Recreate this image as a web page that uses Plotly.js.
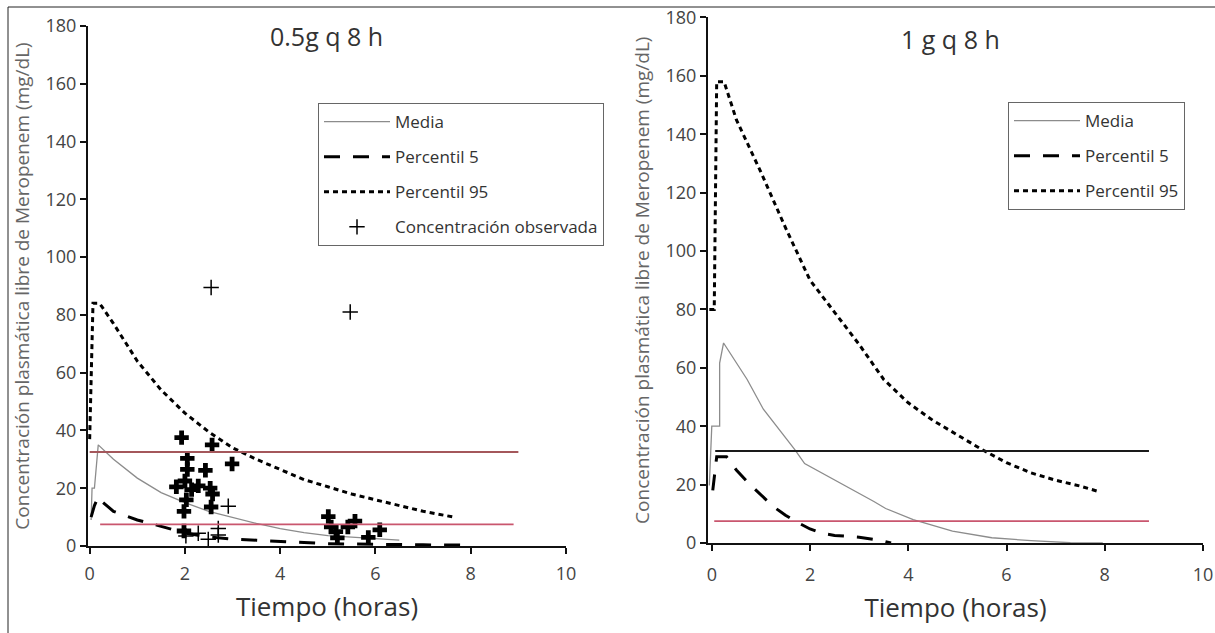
<!DOCTYPE html>
<html>
<head>
<meta charset="utf-8">
<script src="https://cdn.plot.ly/plotly-3.0.1.min.js"></script>
<style>
  html, body { margin: 0; padding: 0; background: #fff; }
  #chart { width: 1215px; height: 633px; }
</style>
</head>
<body>
<div id="chart"></div>
<script>
// ---------- Panel izquierdo: 0.5 g q 8 h ----------
const mediaIzqX = [0.03, 0.05, 0.1, 0.18, 0.5, 1, 1.5, 2, 2.5, 3, 3.5, 4, 4.5, 5, 5.5, 6, 6.5];
const mediaIzqY = [9, 20, 20, 35, 30, 23.5, 18.5, 15, 12, 9.8, 7.8, 6, 4.6, 3.6, 3, 2.4, 2];

const p5IzqX = [0.03, 0.1, 0.18, 0.25, 0.5, 1, 1.5, 2, 2.5, 3, 3.5, 4, 4.5, 5, 6, 7, 7.8];
const p5IzqY = [10, 14, 17, 15.5, 12, 9, 6.8, 4.5, 3.1, 2.4, 2, 1.5, 1.2, 0.8, 0.5, 0.4, 0.3];

const p95IzqX = [0.0, 0.03, 0.07, 0.2, 0.25, 0.5, 1, 1.5, 2, 2.5, 3, 3.5, 4, 4.5, 5, 5.5, 6, 6.5, 7, 7.65];
const p95IzqY = [37, 60, 84, 84, 83, 77, 64, 54, 46, 39.5, 34, 30, 26.5, 23, 20.5, 18, 16, 14, 12, 10];

// Concentración observada (marcas gruesas y finas)
const obsGruesoX = [1.93, 2.57, 2.99, 2.05, 2.05, 2.43, 1.82, 2.0, 2.14, 2.28, 2.53, 2.58, 2.03, 1.98, 2.55, 1.98,
                    5.01, 5.07, 5.17, 5.2, 5.42, 5.57, 5.85, 6.09];
const obsGruesoY = [37.5, 35, 28.4, 30.3, 26.5, 26.2, 20.5, 22.5, 19.5, 20.8, 20, 18, 16, 12, 13.5, 5.2,
                    10.2, 6.6, 5.0, 2.8, 6.6, 8.6, 3.0, 5.6];
const obsFinoX = [2.91, 2.28, 2.49, 2.7, 2.7, 2.02, 2.55, 5.47];
const obsFinoY = [13.8, 4.4, 2.3, 6.1, 3.8, 3.5, 89.5, 81];

// Umbrales (líneas horizontales)
const umbralIzqSupX = [0, 9];
const umbralIzqSupY = [32.5, 32.5];
const umbralIzqInfX = [0.22, 8.9];
const umbralIzqInfY = [7.5, 7.5];

// ---------- Panel derecho: 1 g q 8 h ----------
const mediaDerX = [-0.05, 0.0, 0.16, 0.16, 0.24, 0.72, 1.05, 1.69, 1.89, 2.5, 3.3, 3.54, 4.1, 4.9, 5.7, 6.5, 7.3, 7.96];
const mediaDerY = [19.7, 40, 40, 61.6, 68.5, 56, 45.8, 32, 27.2, 21.7, 14.2, 11.8, 8, 4.1, 1.8, 0.8, 0.1, 0];

const p5DerX = [0.02, 0.1, 0.3, 0.5, 0.75, 1, 1.25, 1.5, 1.75, 2, 2.25, 2.5, 3, 3.4, 3.65];
const p5DerY = [18, 29.5, 29.5, 25, 20.5, 16.5, 12.5, 9.5, 7, 4.8, 3.3, 2.6, 2, 1, 0];

const p95DerX = [-0.05, 0.05, 0.1, 0.25, 0.5, 1, 1.5, 2, 2.5, 3, 3.5, 4, 4.5, 5, 5.5, 6, 6.5, 7, 7.5, 7.9];
const p95DerY = [80, 80, 158, 158, 145, 127, 108, 90, 79, 68, 56, 48, 42, 37, 32, 27.5, 24, 21.5, 19.5, 17.5];

const umbralDerSupX = [0.07, 8.9];
const umbralDerSupY = [31.5, 31.5];
const umbralDerInfX = [0.05, 8.9];
const umbralDerInfY = [7.5, 7.5];

// Etiquetas
const tituloIzq = '0.5g q 8 h';
const tituloDer = '1 g q 8 h';
const tituloEjeX = 'Tiempo (horas)';
const tituloEjeY = 'Concentración plasmática libre de Meropenem (mg/dL)';
const nombres = ['Media', 'Percentil 5', 'Percentil 95', 'Concentración observada'];

// ---------- Estilos ----------
const W = 1215, H = 633;
const FONT = 'Open Sans, Noto Sans, DejaVu Sans, sans-serif';
const mediaLine = {color: '#8c8c8c', width: 1.3};
const p5Line = {color: '#000', width: 3, dash: '16px,13px'};
const p95Line = {color: '#000', width: 3, dash: '5px,4px'};

const traces = [
  {x: mediaIzqX, y: mediaIzqY, name: nombres[0], mode: 'lines', line: mediaLine, xaxis: 'x', yaxis: 'y', legend: 'legend', legendgroup: 'a1'},
  {x: p5IzqX, y: p5IzqY, name: nombres[1], mode: 'lines', line: p5Line, xaxis: 'x', yaxis: 'y', legend: 'legend', legendgroup: 'a2'},
  {x: p95IzqX, y: p95IzqY, name: nombres[2], mode: 'lines', line: p95Line, xaxis: 'x', yaxis: 'y', legend: 'legend', legendgroup: 'a3'},
  {x: obsFinoX, y: obsFinoY, name: nombres[3], mode: 'markers', xaxis: 'x', yaxis: 'y', legend: 'legend', legendgroup: 'a4',
   marker: {symbol: 'cross-thin', size: 11, color: '#000', line: {color: '#000', width: 1.5}}},
  {x: obsGruesoX, y: obsGruesoY, name: nombres[3], mode: 'markers', xaxis: 'x', yaxis: 'y', showlegend: false, legendgroup: 'a4',
   marker: {symbol: 'cross', size: 12, color: '#000', line: {width: 0}}},
  {x: umbralIzqSupX, y: umbralIzqSupY, mode: 'lines', showlegend: false, xaxis: 'x', yaxis: 'y', hoverinfo: 'skip',
   line: {color: '#a4575b', width: 2}},
  {x: umbralIzqInfX, y: umbralIzqInfY, mode: 'lines', showlegend: false, xaxis: 'x', yaxis: 'y', hoverinfo: 'skip',
   line: {color: '#c9566e', width: 1.6}},

  {x: mediaDerX, y: mediaDerY, name: nombres[0], mode: 'lines', line: mediaLine, xaxis: 'x2', yaxis: 'y2', legend: 'legend2', legendgroup: 'b1'},
  {x: p5DerX, y: p5DerY, name: nombres[1], mode: 'lines', line: p5Line, xaxis: 'x2', yaxis: 'y2', legend: 'legend2', legendgroup: 'b2'},
  {x: p95DerX, y: p95DerY, name: nombres[2], mode: 'lines', line: p95Line, xaxis: 'x2', yaxis: 'y2', legend: 'legend2', legendgroup: 'b3'},
  {x: umbralDerSupX, y: umbralDerSupY, mode: 'lines', showlegend: false, xaxis: 'x2', yaxis: 'y2', hoverinfo: 'skip',
   line: {color: '#1a1a1a', width: 2}},
  {x: umbralDerInfX, y: umbralDerInfY, mode: 'lines', showlegend: false, xaxis: 'x2', yaxis: 'y2', hoverinfo: 'skip',
   line: {color: '#c9566e', width: 1.6}}
];

function px(v) { return v / W; }
function py(v) { return 1 - v / H; }

const axisCommon = {
  showline: true, linecolor: '#111', linewidth: 2,
  ticks: 'outside', ticklen: 6, tickwidth: 2, tickcolor: '#111',
  showgrid: false, zeroline: false, automargin: false,
  tickfont: {family: FONT, size: 18, color: '#444'}
};

const xTitle = {text: tituloEjeX, font: {family: FONT, size: 26, color: '#333'}, standoff: 14};
const yTitle = {text: tituloEjeY, font: {family: FONT, size: 19, color: '#666'}, standoff: 11};

const legendCommon = {
  xanchor: 'left', yanchor: 'top', bgcolor: '#fff', bordercolor: '#666', borderwidth: 1,
  font: {family: FONT, size: 17, color: '#333'}, tracegroupgap: 10, itemwidth: 66,
  traceorder: 'grouped'
};

const layout = {
  width: W, height: H,
  margin: {l: 0, r: 0, t: 0, b: 0},
  paper_bgcolor: '#fff', plot_bgcolor: 'rgba(0,0,0,0)',
  showlegend: true,
  xaxis: Object.assign({}, axisCommon, {domain: [px(88), px(566)], range: [-0.035, 10], tick0: 0, dtick: 2,
    anchor: 'y', title: xTitle, ticklabelstandoff: 4}),
  yaxis: Object.assign({}, axisCommon, {domain: [py(546), py(26)], range: [0, 180], tick0: 0, dtick: 20,
    anchor: 'x', title: yTitle}),
  xaxis2: Object.assign({}, axisCommon, {domain: [px(708), px(1203)], range: [-0.077, 10], tick0: 0, dtick: 2,
    anchor: 'y2', title: xTitle, ticklabelstandoff: 8}),
  yaxis2: Object.assign({}, axisCommon, {domain: [py(543), py(17.4)], range: [0, 180], tick0: 0, dtick: 20,
    anchor: 'x2', title: yTitle}),
  legend: Object.assign({}, legendCommon, {x: px(318), y: py(103)}),
  legend2: Object.assign({}, legendCommon, {x: px(1008), y: py(102)}),
  annotations: [
    {text: tituloIzq, xref: 'paper', yref: 'paper', x: px(326), y: py(36), xanchor: 'center', yanchor: 'middle',
     showarrow: false, font: {family: FONT, size: 25, color: '#333'}},
    {text: tituloDer, xref: 'paper', yref: 'paper', x: px(950), y: py(39), xanchor: 'center', yanchor: 'middle',
     showarrow: false, font: {family: FONT, size: 25, color: '#333'}}
  ],
  shapes: [
    {type: 'line', xref: 'paper', yref: 'paper', x0: px(8), x1: px(8), y0: py(7), y1: 0, line: {color: '#222', width: 1}},
    {type: 'line', xref: 'paper', yref: 'paper', x0: px(8), x1: 1, y0: py(7), y1: py(7), line: {color: '#222', width: 1}}
  ]
};

Plotly.newPlot('chart', traces, layout, {displayModeBar: false, staticPlot: true});
</script>
</body>
</html>
